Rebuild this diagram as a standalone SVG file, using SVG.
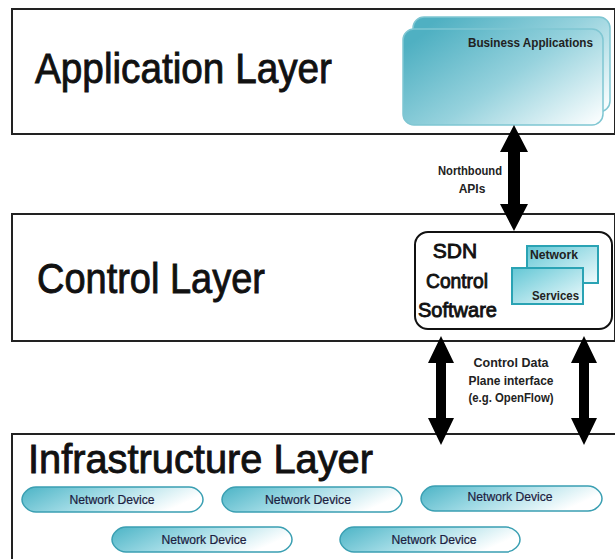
<svg xmlns="http://www.w3.org/2000/svg" width="615" height="559" viewBox="0 0 615 559">
<defs>
<linearGradient id="gApp" x1="0" y1="0.2" x2="1" y2="0.9">
<stop offset="0" stop-color="#4fb0c2"/>
<stop offset="0.5" stop-color="#96d2dd"/>
<stop offset="1" stop-color="#f7fcfd"/>
</linearGradient>
<linearGradient id="gPill" x1="0" y1="0" x2="1" y2="0.3">
<stop offset="0" stop-color="#4cb4c6"/>
<stop offset="0.45" stop-color="#9ad8e3"/>
<stop offset="1" stop-color="#ffffff"/>
</linearGradient>
<linearGradient id="gSvc" x1="0" y1="0" x2="1" y2="1">
<stop offset="0" stop-color="#63c7d5"/>
<stop offset="1" stop-color="#f0fbfd"/>
</linearGradient>
</defs>
<style>
.layer{fill:#fff;stroke:#222;stroke-width:2}
.title{font-family:"Liberation Sans",Arial,sans-serif;fill:#111;stroke:#111;stroke-width:0.9}
.lbl{font-family:"Liberation Sans",Arial,sans-serif;font-size:12px;font-weight:bold;fill:#222}
.dev{font-family:"Liberation Sans",Arial,sans-serif;font-size:12px;fill:#1c2040;text-anchor:middle;stroke:#1c2040;stroke-width:0.2}
.pill{fill:url(#gPill);stroke:#3a9fb2;stroke-width:1.5}
.app{fill:url(#gApp);stroke:#7fc6d2;stroke-width:1.5}
.svc{fill:url(#gSvc);stroke:#2aa3b4;stroke-width:2}
.arrow{fill:#000}
</style>

<g id="application-layer">
<rect class="layer" x="12" y="9" width="603" height="125"/>
<text class="title" x="35" y="83" font-size="43" textLength="297" lengthAdjust="spacingAndGlyphs">Application  Layer</text>
</g>

<g id="business-applications">
<rect class="app" x="413" y="17" width="197" height="95" rx="11"/>
<rect class="app" x="403" y="29" width="200" height="96" rx="11"/>
<text class="lbl" x="468" y="47" font-size="11" textLength="125" lengthAdjust="spacingAndGlyphs" fill="#222244">Business Applications</text>
</g>

<g id="control-layer">
<rect class="layer" x="12" y="214" width="603" height="127"/>
<text class="title" x="37" y="293" font-size="43" textLength="228" lengthAdjust="spacingAndGlyphs">Control Layer</text>
</g>

<g id="sdn-control-software">
<rect x="415" y="232" width="197" height="97" rx="13" fill="#fff" stroke="#111" stroke-width="2"/>
<text class="title" x="455" y="258" font-size="21" text-anchor="middle" stroke-width="0.5">SDN</text>
<text class="title" x="426" y="288" font-size="21" textLength="62" lengthAdjust="spacingAndGlyphs" stroke-width="0.5">Control</text>
<text class="title" x="418" y="317" font-size="21" textLength="79" lengthAdjust="spacingAndGlyphs" stroke-width="0.5">Software</text>
</g>

<g id="network-services">
<rect class="svc" x="527" y="246" width="71" height="37"/>
<rect class="svc" x="512" y="268" width="71" height="36"/>
<text class="lbl" x="530" y="259" textLength="48" lengthAdjust="spacingAndGlyphs" fill="#1c2040">Network</text>
<text class="lbl" x="532" y="300" textLength="47" lengthAdjust="spacingAndGlyphs" fill="#1c2040">Services</text>
</g>

<g id="infrastructure-layer">
<path d="M615 434 H12 V559" fill="#fff" stroke="#222" stroke-width="2"/>
<text class="title" x="28" y="473" font-size="41" textLength="345" lengthAdjust="spacingAndGlyphs">Infrastructure Layer</text>
</g>

<g id="device-1">
<path class="pill" d="M36 487 H189 C197 487 203 494 203 499.5 C203 505 197 512 189 512 H36 C28 512 22 505 22 499.5 C22 494 28 487 36 487 Z"/>
<text class="dev" x="112" y="504" textLength="85" lengthAdjust="spacingAndGlyphs">Network Device</text>
</g>
<g id="device-2">
<path class="pill" d="M236 487 H388 C396 487 402 494 402 499.5 C402 505 396 512 388 512 H236 C228 512 222 505 222 499.5 C222 494 228 487 236 487 Z"/>
<text class="dev" x="308" y="504" textLength="86" lengthAdjust="spacingAndGlyphs">Network Device</text>
</g>
<g id="device-3">
<path class="pill" d="M435 486 H588 C596 486 602 493 602 498.5 C602 504 596 511 588 511 H435 C427 511 421 504 421 498.5 C421 493 427 486 435 486 Z"/>
<text class="dev" x="510" y="501" textLength="85" lengthAdjust="spacingAndGlyphs">Network Device</text>
</g>
<g id="device-4">
<path class="pill" d="M126 527 H278 C286 527 292 534 292 539.5 C292 545 286 552 278 552 H126 C118 552 112 545 112 539.5 C112 534 118 527 126 527 Z"/>
<text class="dev" x="204" y="544" textLength="85" lengthAdjust="spacingAndGlyphs">Network Device</text>
</g>
<g id="device-5">
<path class="pill" d="M354 527 H506 C514 527 520 534 520 539.5 C520 545 514 552 506 552 H354 C346 552 340 545 340 539.5 C340 534 346 527 354 527 Z"/>
<text class="dev" x="434" y="544" textLength="85" lengthAdjust="spacingAndGlyphs">Network Device</text>
</g>

<g id="connectors">
<polygon class="arrow" points="514,125 528,152 520,152 520,204 528,204 514,231 500,204 508,204 508,152 500,152"/>
<polygon class="arrow" points="441,336 454,363 446,363 446,418 454,418 441,445 428,418 436,418 436,363 428,363"/>
<polygon class="arrow" points="584,336 597,363 589,363 589,418 597,418 584,445 571,418 579,418 579,363 571,363"/>
<text class="lbl" x="470" y="175" text-anchor="middle" textLength="64" lengthAdjust="spacingAndGlyphs">Northbound</text>
<text class="lbl" x="472" y="193" text-anchor="middle">APIs</text>
<text class="lbl" x="511" y="367" text-anchor="middle" textLength="75" lengthAdjust="spacingAndGlyphs">Control Data</text>
<text class="lbl" x="511" y="385" text-anchor="middle" textLength="85" lengthAdjust="spacingAndGlyphs">Plane interface</text>
<text class="lbl" x="511" y="402" text-anchor="middle" textLength="85" lengthAdjust="spacingAndGlyphs">(e.g. OpenFlow)</text>
</g>
</svg>
